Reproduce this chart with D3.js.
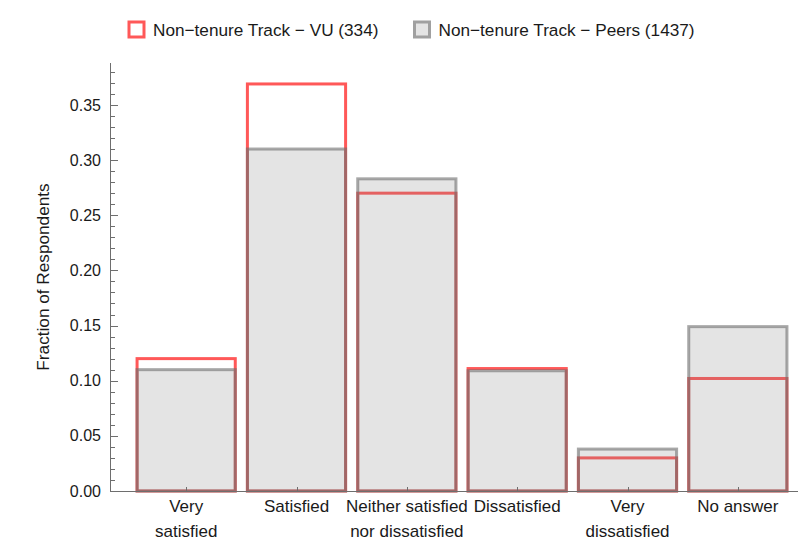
<!DOCTYPE html>
<html><head><meta charset="utf-8">
<script src="https://cdn.jsdelivr.net/npm/d3@7"></script>
<style>body{margin:0;background:#fff}svg{display:block}text{font-family:"Liberation Sans",Arial,sans-serif}</style>
</head><body><svg id="c" width="798" height="544"></svg>
<script>
const categories = ["Very satisfied","Satisfied","Neither satisfied nor dissatisfied","Dissatisfied","Very dissatisfied","No answer"];
const categoryLines = [["Very","satisfied"],["Satisfied"],["Neither satisfied","nor dissatisfied"],["Dissatisfied"],["Very","dissatisfied"],["No answer"]];
const vuValues = [0.120, 0.369, 0.270, 0.111, 0.030, 0.102];
const peersValues = [0.110, 0.310, 0.283, 0.109, 0.038, 0.149];
const seriesNames = ["Non\u2212tenure Track \u2212 VU (334)", "Non\u2212tenure Track \u2212 Peers (1437)"];
const yTicks = [0, 0.05, 0.10, 0.15, 0.20, 0.25, 0.30, 0.35];
const yMinor = d3.range(0, 39).map(i => i / 100);
const yTitle = "Fraction of Respondents";

const svg = d3.select("#c");
const x0 = 110, y0 = 491;
const x = d3.scaleBand().domain(categories).range([131, 793]).paddingInner(0.11).paddingOuter(0.055);
const y = d3.scaleLinear().domain([0, 0.388]).range([y0, 63]);

const RED = "rgb(255,88,88)";
const FILL = "rgba(128,128,128,0.215)";
const EDGE = "rgba(110,110,110,0.6)";

// VU bars (outline only)
svg.append("g").selectAll("rect").data(categories).join("rect")
  .attr("x", d => x(d)).attr("width", x.bandwidth())
  .attr("y", (d,i) => y(vuValues[i])).attr("height", (d,i) => y0 - y(vuValues[i]))
  .attr("fill", "none").attr("stroke", RED).attr("stroke-width", 3);
// Peers bars
svg.append("g").selectAll("rect").data(categories).join("rect")
  .attr("x", d => x(d)).attr("width", x.bandwidth())
  .attr("y", (d,i) => y(peersValues[i])).attr("height", (d,i) => y0 - y(peersValues[i]))
  .attr("fill", FILL).attr("stroke", EDGE).attr("stroke-width", 3);

const AX = "#6e6e6e";
const ga = svg.append("g").attr("stroke", AX).attr("stroke-width", 1);
ga.append("line").attr("x1", x0 + 0.5).attr("x2", x0 + 0.5).attr("y1", 63).attr("y2", y0 + 0.5);
ga.selectAll(".mn").data(yMinor).join("line")
  .attr("x1", x0).attr("x2", d => x0 + (Math.round(d*100) % 5 === 0 ? 8 : 5))
  .attr("y1", d => Math.round(y(d)) + 0.5).attr("y2", d => Math.round(y(d)) + 0.5);
ga.append("line").attr("x1", x0).attr("x2", 798).attr("y1", y0 + 0.5).attr("y2", y0 + 0.5);
ga.selectAll(".xt").data(categories).join("line")
  .attr("x1", d => Math.round(x(d) + x.bandwidth()/2) + 0.5).attr("x2", d => Math.round(x(d) + x.bandwidth()/2) + 0.5)
  .attr("y1", y0).attr("y2", y0 - 4);

// y tick labels
svg.append("g").selectAll("text").data(yTicks).join("text")
  .attr("x", 101).attr("y", d => y(d)).attr("dy", "0.35em").attr("text-anchor", "end")
  .attr("font-size", 16).attr("fill", "#1a1a1a").text(d => d3.format(".2f")(d));

// x labels
const xl = svg.append("g").selectAll("text").data(categories).join("text")
  .attr("text-anchor", "middle").attr("font-size", 17).attr("fill", "#1a1a1a")
  .attr("transform", d => `translate(${x(d) + x.bandwidth()/2},${512})`);
xl.each(function(d, i) {
  d3.select(this).selectAll("tspan").data(categoryLines[i]).join("tspan")
    .attr("x", 0).attr("y", (t, j) => j * 25).text(t => t);
});

// y title
svg.append("text").attr("transform", "translate(43,277) rotate(-90)")
  .attr("text-anchor", "middle").attr("dy", "0.35em").attr("font-size", 17.2).attr("fill", "#1a1a1a").text(yTitle);

// legend
const leg = [{x: 129, stroke: RED, fill: "#fff"}, {x: 414.5, stroke: "rgb(160,160,160)", fill: "rgb(228,228,228)"}];
leg.forEach((l, i) => {
  svg.append("rect").attr("x", l.x).attr("y", 22).attr("width", 15).attr("height", 15)
    .attr("fill", l.fill).attr("stroke", l.stroke).attr("stroke-width", 3);
  svg.append("text").attr("x", l.x + 24).attr("y", 30).attr("dy", "0.35em")
    .attr("font-size", 17.2).attr("fill", "#1a1a1a").text(seriesNames[i]);
});
</script></body></html>
